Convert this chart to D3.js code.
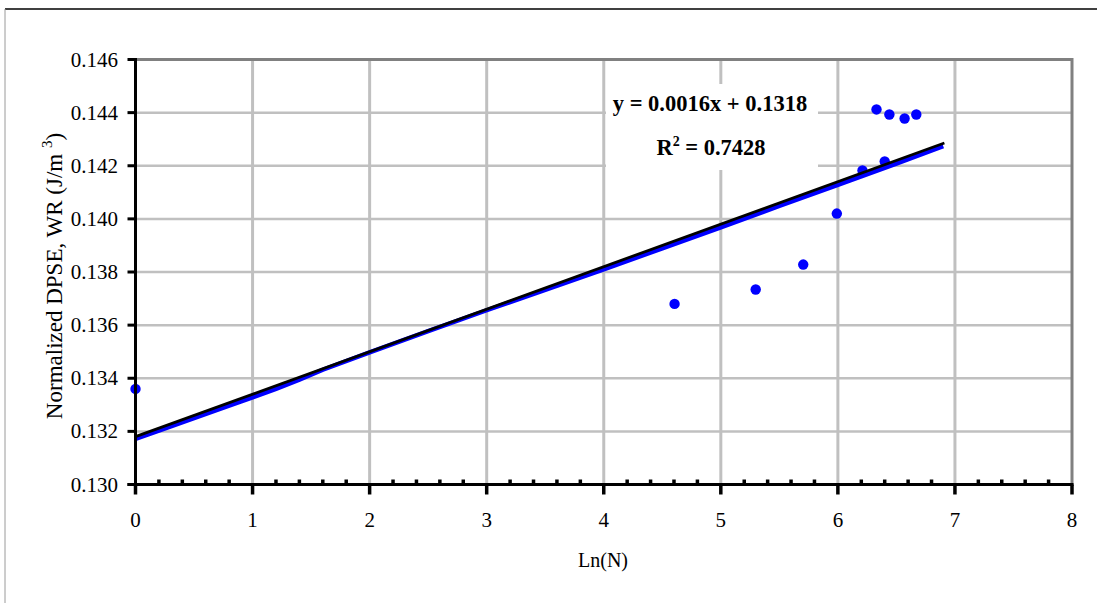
<!DOCTYPE html>
<html>
<head>
<meta charset="utf-8">
<script src="https://cdn.jsdelivr.net/npm/d3@7"></script>
<style>
  html, body { margin: 0; padding: 0; background: #fff; }
  svg { display: block; }
  text { font-family: "Liberation Serif", "Times New Roman", serif; fill: #000; }
</style>
</head>
<body>
<svg id="chart" width="1097" height="603"></svg>
<script>
// Dense run of normalized DPSE values against Ln(N)
const denseX = [0, 0.2, 0.5, 0.8, 1.0, 1.2, 1.4, 1.6, 2.0, 2.5, 3.0, 3.5, 4.0, 4.5, 5.0, 5.5, 6.0, 6.5, 6.9];
const denseY = [0.13172, 0.13203, 0.13250, 0.13297, 0.13328, 0.13360, 0.13395, 0.13432, 0.13497, 0.13577,
                0.13656, 0.13733, 0.13810, 0.13889, 0.13968, 0.14049, 0.14128, 0.14208, 0.14274];

// Individual measured points (large markers)
const pointX = [0, 4.605, 5.298, 5.704, 5.991, 6.21, 6.40, 6.33, 6.44, 6.57, 6.67];
const pointY = [0.1336, 0.1368, 0.13734, 0.13828, 0.1402, 0.14182, 0.14216, 0.14412, 0.14393, 0.14378, 0.14393];

// Linear trendline and fit quality
const slope = 0.0016;
const intercept = 0.1318;
const rSquared = 0.7428;
const trendEndX = 6.91;

// Axis ticks
const xTicks = [0, 1, 2, 3, 4, 5, 6, 7, 8];
const yTicks = [0.130, 0.132, 0.134, 0.136, 0.138, 0.140, 0.142, 0.144, 0.146];

const svg = d3.select("#chart");

// outer frame
svg.append("line").attr("x1", 5).attr("x2", 1097).attr("y1", 9).attr("y2", 9)
  .attr("stroke", "#000").attr("stroke-width", 1.5);
svg.append("line").attr("x1", 5).attr("x2", 5).attr("y1", 9).attr("y2", 603)
  .attr("stroke", "#9a9a9a").attr("stroke-width", 1);

const x = d3.scaleLinear().domain([0, 8]).range([135.5, 1072]);
const y = d3.scaleLinear().domain([0.130, 0.146]).range([484.5, 59.5]);

// gridlines
const grid = svg.append("g");
grid.selectAll(".hg").data(yTicks.slice(1, -1)).join("line")
  .attr("x1", x(0)).attr("x2", x(8))
  .attr("y1", d => y(d)).attr("y2", d => y(d))
  .attr("stroke", "#c0c0c0").attr("stroke-width", 2.5);
grid.selectAll(".vg").data(xTicks.slice(1, -1)).join("line")
  .attr("x1", d => x(d)).attr("x2", d => x(d))
  .attr("y1", y(0.146)).attr("y2", y(0.130))
  .attr("stroke", "#c0c0c0").attr("stroke-width", 3);
// plot border (top and right)
grid.append("path")
  .attr("d", `M${x(0)},${y(0.146)}H${x(8)}V${y(0.130)}`)
  .attr("fill", "none").attr("stroke", "#808080").attr("stroke-width", 3);

// equation box
const eqBox = svg.append("g");
eqBox.append("rect").attr("x", 606).attr("y", 84).attr("width", 212).attr("height", 86)
  .attr("fill", "#fff");
eqBox.append("text").attr("x", 710).attr("y", 111).attr("text-anchor", "middle")
  .attr("font-size", 22.5).attr("font-weight", "bold")
  .text(`y = ${slope}x + ${intercept}`);
const r2 = eqBox.append("text").attr("x", 711).attr("y", 155).attr("text-anchor", "middle")
  .attr("font-size", 22.5).attr("font-weight", "bold");
r2.append("tspan").text("R");
r2.append("tspan").attr("font-size", 14).attr("dy", -9).text("2");
r2.append("tspan").attr("dy", 9).text(` = ${rSquared}`);

// dense series
const dense = denseX.map((d, i) => [d, denseY[i]]);
svg.append("path").datum(dense)
  .attr("d", d3.line().x(d => x(d[0])).y(d => y(d[1])))
  .attr("fill", "none").attr("stroke", "#0000ff").attr("stroke-width", 4.5);

// individual points
svg.selectAll(".pt").data(pointX.map((d, i) => [d, pointY[i]])).join("circle")
  .attr("cx", d => x(d[0])).attr("cy", d => y(d[1])).attr("r", 5.2)
  .attr("fill", "#0000ff");

// trendline
svg.append("line")
  .attr("x1", x(0)).attr("y1", y(intercept))
  .attr("x2", x(trendEndX)).attr("y2", y(intercept + slope * trendEndX))
  .attr("stroke", "#000").attr("stroke-width", 2.8);

// axes
const axes = svg.append("g");
axes.append("line").attr("x1", x(0)).attr("x2", x(0)).attr("y1", y(0.146) - 1.5).attr("y2", y(0.130) + 1.5)
  .attr("stroke", "#000").attr("stroke-width", 3);
axes.append("line").attr("x1", x(0) - 8).attr("x2", x(8) + 1.5).attr("y1", y(0.130)).attr("y2", y(0.130))
  .attr("stroke", "#000").attr("stroke-width", 3);

// y ticks and labels
axes.selectAll(".yt").data(yTicks).join("line")
  .attr("x1", x(0) - 8).attr("x2", x(0))
  .attr("y1", d => y(d)).attr("y2", d => y(d))
  .attr("stroke", "#000").attr("stroke-width", 3);
axes.selectAll(".yl").data(yTicks).join("text")
  .attr("x", 118).attr("y", d => y(d) + 7)
  .attr("text-anchor", "end").attr("font-size", 21)
  .text(d => d3.format(".3f")(d));

// x ticks (major below, minor above) and labels
axes.selectAll(".xt").data(xTicks).join("line")
  .attr("x1", d => x(d)).attr("x2", d => x(d))
  .attr("y1", y(0.130)).attr("y2", y(0.130) + 10)
  .attr("stroke", "#000").attr("stroke-width", 3.5);
const minor = d3.range(0, 40).filter(i => i % 5 !== 0).map(i => i * 0.2);
axes.selectAll(".xm").data(minor).join("line")
  .attr("x1", d => x(d)).attr("x2", d => x(d))
  .attr("y1", y(0.130)).attr("y2", y(0.130) - 5)
  .attr("stroke", "#000").attr("stroke-width", 3.5);
axes.selectAll(".xl").data(xTicks).join("text")
  .attr("x", d => x(d)).attr("y", 527)
  .attr("text-anchor", "middle").attr("font-size", 21)
  .text(d => d);

// axis titles
svg.append("text").attr("x", 603).attr("y", 567).attr("text-anchor", "middle")
  .attr("font-size", 20).text("Ln(N)");
const yt = svg.append("text")
  .attr("transform", "translate(62,276) rotate(-90)")
  .attr("text-anchor", "middle").attr("font-size", 23);
yt.append("tspan").text("Normalized DPSE, WR (J/m ");
yt.append("tspan").attr("font-size", 15).attr("dy", -10).text("3");
yt.append("tspan").attr("dy", 10).text(")");
</script>
</body>
</html>
